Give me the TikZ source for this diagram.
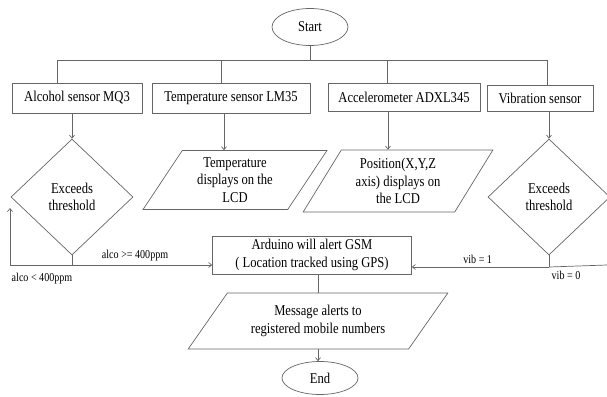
\documentclass[tikz,border=0pt]{standalone}
\usepackage{fontspec}
\setmainfont{Liberation Serif}[FakeStretch=0.84]
\usetikzlibrary{shapes.geometric,arrows.meta}

\begin{document}
\begin{tikzpicture}[x=1pt, y=-1pt, >={Straight Barb[length=3pt,width=5pt]}, every node/.style={font=\fontsize{15}{17.5}\selectfont, align=center, text=black}, line/.style={draw=black!60, line width=0.7pt}, term/.style={ellipse, line, inner sep=0pt}, box/.style={rectangle, line, inner sep=0pt}, io/.style={trapezium, trapezium stretches=true, line, inner sep=0pt}, decision/.style={diamond, line, inner sep=0pt, minimum width=122pt, minimum height=116pt}, lbl/.style={font=\fontsize{12}{14}\selectfont}]

\useasboundingbox (0,0) rectangle (607,396);

\node[term, minimum width=76pt, minimum height=37pt] (start) at (310,27) {Start};
\node[box, minimum width=130pt, minimum height=30pt] (alco) at (77,98) {Alcohol sensor MQ3};
\node[box, minimum width=158pt, minimum height=30pt] (temp) at (231,98) {Temperature sensor LM35};
\node[box, minimum width=152pt, minimum height=28pt] (accel) at (404,97) {Accelerometer ADXL345};
\node[box, minimum width=106pt, minimum height=26pt] (vib) at (540,98) {Vibration sensor};
\node[decision] (alcodec) at (72,197) {Exceeds\\threshold};
\node[io, trapezium left angle=58, trapezium right angle=122, minimum width=184pt, minimum height=59pt] (tempout) at (235,180) {Temperature\\displays on the\\LCD};
\node[io, trapezium left angle=58, trapezium right angle=122, minimum width=190pt, minimum height=62pt] (accelout) at (398,181) {Position(X,Y,Z\\axis) displays on\\the LCD};
\node[decision] (vibdec) at (549,197) {Exceeds\\threshold};
\node[box, minimum width=199pt, minimum height=38pt] (gsm) at (312,255) {Arduino will alert GSM\\( Location tracked using GPS)};
\node[io, trapezium left angle=47, trapezium right angle=133, minimum width=260pt, minimum height=56pt] (msg) at (318,321) {Message alerts to\\registered mobile numbers};
\node[term, minimum width=76pt, minimum height=33pt] (end) at (320,378) {End};

\coordinate (b1) at (57,60);
\coordinate (b2) at (221,60);
\coordinate (b3) at (387,60);
\coordinate (b4) at (547,60);
\coordinate (j1) at (72,265);
\coordinate (j2) at (549,267);
\coordinate (back) at (10,208);
\coordinate (edge) at (607,265);

\draw[line] (b1) -- (b4);
\draw[line] (start) -- (start |- b1);
\draw[line] (b1) -- (b1 |- alco.north);
\draw[line] (b2) -- (b2 |- temp.north);
\draw[line] (b3) -- (b3 |- accel.north);
\draw[line] (b4) -- (b4 |- vib.north);

\draw[line, ->] (alcodec.north |- alco.south) -- (alcodec.north);
\draw[line, ->] (224,113) coordinate (t1) -- (t1 |- tempout.north);
\draw[line, ->] (388,111) coordinate (t2) -- (t2 |- accelout.north);
\draw[line, ->] (vibdec.north |- vib.south) -- (vibdec.north);

\draw[line] (alcodec.south) -- (j1);
\draw[line, ->] (j1) -| (back);
\draw[line, ->] (j1) -- (j1 -| gsm.west) node[lbl, pos=0.45, above] {alco >= 400ppm};
\node[lbl] at (42,279) {alco < 400ppm};

\draw[line] (vibdec.south) -- (j2);
\draw[line, ->] (j2) -- (j2 -| gsm.east) node[lbl, pos=0.52, above] {vib = 1};
\draw[line] (j2) -- (edge);
\node[lbl] at (566,275) {vib = 0};

\draw[line] (msg.north |- gsm.south) -- (msg.north);
\draw[line, ->] (msg.south) -- (msg.south |- end.north);
\end{tikzpicture}
\end{document}
